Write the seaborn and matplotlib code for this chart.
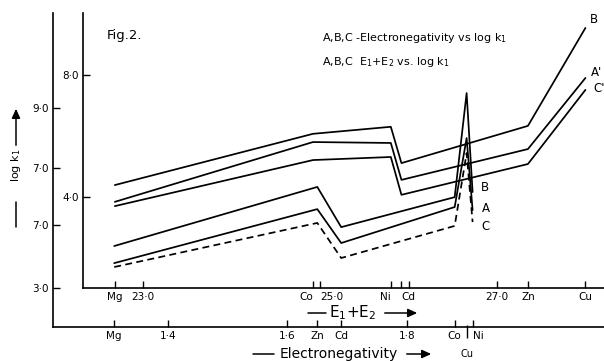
import pandas as pd
import seaborn as sns
import matplotlib.pyplot as plt
import matplotlib.transforms as mtransforms

sns.set_style("ticks")
plt.rcParams["font.family"] = ["DejaVu Sans"]
plt.rcParams["mathtext.fontset"] = "dejavusans"
for key in ("text.color", "axes.labelcolor", "xtick.color", "ytick.color", "axes.edgecolor"):
    plt.rcParams[key] = "black"

# metals in order of electronegativity
metals = ["Mg", "Zn", "Cd", "Co", "Cu", "Ni"]
electroneg = [1.31, 1.65, 1.69, 1.88, 1.90, 1.91]
ion_sum = [22.68, 27.35, 25.92, 24.92, 28.00, 25.80]  # E1+E2 (eV)

# log k1 plotted against electronegativity (outer axes)
en_logk_A = [3.83, 5.63, 4.50, 5.70, 8.00, 5.60]
en_logk_B = [4.40, 6.37, 5.03, 6.03, 9.50, 6.20]
en_logk_C = [3.70, 5.17, 4.00, 5.07, 7.50, 5.20]

# log k1 plotted against E1+E2 (inner axes)
ie_logk_A = [3.84, 5.57, 4.56, 5.80, 7.90, 5.77]
ie_logk_B = [4.39, 6.33, 5.11, 6.07, 9.54, 6.30]
ie_logk_C = [3.70, 5.08, 4.07, 5.21, 7.51, 5.31]

# axis ticks
en_ticks = [1.31, 1.4, 1.6, 1.65, 1.69, 1.8, 1.88, 1.91]
en_ticklabels = ["Mg", "1·4", "1·6", "Zn", "Cd", "1·8", "Co", "Ni"]
ie_ticks = [22.68, 23.0, 24.92, 25.0, 25.80, 25.92, 26.0, 27.0, 27.35, 28.0]
ie_ticklabels = ["Mg", "23·0", "Co", "25·0", "Ni", "Cd", "", "27·0", "Zn", "Cu"]
outer_yticks = [3.0, 5.1, 7.0, 9.0]
outer_yticklabels = ["3·0", "7·0", "7·0", "9·0"]
inner_yticks = [4.0, 8.0]
inner_yticklabels = ["4·0", "8·0"]

rows_en, rows_ie = [], []
for curve, en_vals, ie_vals in [("A", en_logk_A, ie_logk_A),
                                ("B", en_logk_B, ie_logk_B),
                                ("C", en_logk_C, ie_logk_C)]:
    for m, x1, x2, y1, y2 in zip(metals, electroneg, ion_sum, en_vals, ie_vals):
        rows_en.append({"metal": m, "x": x1, "logk": y1, "curve": curve})
        rows_ie.append({"metal": m, "x": x2, "logk": y2, "curve": curve})
df_en = pd.DataFrame(rows_en)
df_ie = pd.DataFrame(rows_ie)

W, H = 604, 361


def px(x, y):
    # pixel position (from top-left) -> figure fraction
    return (x / W, 1 - y / H)


fig = plt.figure(figsize=(W / 100, H / 100), dpi=100)
ax_en = fig.add_axes([53 / W, 1 - 327 / H, (W - 53) / W, (327 - 13) / H])
ax_ie = fig.add_axes([83 / W, 1 - 288 / H, (W - 83) / W, (288 - 13) / H])
ax_ie.patch.set_visible(False)

black = ["black"] * 3
sns.lineplot(data=df_en, x="x", y="logk", hue="curve", style="curve",
             palette=black, dashes={"A": "", "B": "", "C": (4, 2.5)},
             estimator=None, sort=True, legend=False, lw=1.25, ax=ax_en)
sns.lineplot(data=df_ie, x="x", y="logk", hue="curve", style="curve",
             palette=black, dashes={"A": "", "B": "", "C": ""},
             estimator=None, sort=True, legend=False, lw=1.25, ax=ax_ie)

for ax in (ax_en, ax_ie):
    sns.despine(ax=ax)
    for s in ("left", "bottom"):
        ax.spines[s].set_linewidth(1.2)
    ax.tick_params(direction="in", length=5, width=1, labelsize=7.5, pad=3, colors="black")
    ax.set_xlabel("")
    ax.set_ylabel("")

ax_en.set_xlim(1.2075, 2.13)
ax_en.set_ylim(1.7, 12.17)
ax_en.set_xticks(en_ticks)
ax_en.set_xticklabels(en_ticklabels)
ax_en.set_yticks(outer_yticks)
ax_en.set_yticklabels(outer_yticklabels)

ax_ie.set_xlim(22.32, 28.21)
ax_ie.set_ylim(1.016, 10.03)
ax_ie.set_xticks(ie_ticks)
ax_ie.set_xticklabels(ie_ticklabels)
ax_ie.set_yticks(inner_yticks)
ax_ie.set_yticklabels(inner_yticklabels)

# nudge crowded tick labels apart
for lab in ax_ie.get_xticklabels():
    if lab.get_text() in ("Co", "Ni"):
        lab.set_ha("right")
    elif lab.get_text() in ("25·0", "Cd"):
        lab.set_ha("left")
for lab in ax_en.get_xticklabels():
    if lab.get_text() == "Ni":
        lab.set_ha("left")

# Cu marker crossing the electronegativity axis
cu_en = electroneg[metals.index("Cu")]
trans = mtransforms.blended_transform_factory(ax_en.transData, ax_en.transAxes)
ax_en.vlines(cu_en, -0.035, 0.006, color="black", lw=1, transform=trans, clip_on=False)
ax_en.text(cu_en, -0.085, "Cu", transform=trans, ha="center", va="center", fontsize=7)

# curve labels
ni = metals.index("Ni")
cu = metals.index("Cu")
for curve, vals, off in [("B", en_logk_B, (6, 3)), ("A", en_logk_A, (7, 1)), ("C", en_logk_C, (6, -3))]:
    ax_en.annotate(curve, (electroneg[ni], vals[ni]), xytext=off, textcoords="offset points",
                   ha="left", va="center", fontsize=8.5)
for curve, vals, off in [("B", ie_logk_B, (3, 6)), ("A'", ie_logk_A, (4, 4)), ("C'", ie_logk_C, (6, 1))]:
    ax_ie.annotate(curve, (ion_sum[cu], vals[cu]), xytext=off, textcoords="offset points",
                   ha="left", va="center", fontsize=8.5, annotation_clip=False)

# title and key
fig.text(*px(107, 36), "Fig.2.", fontsize=9.5, va="center")
fig.text(*px(322, 38), "A,B,C -Electronegativity vs log k$_1$", fontsize=8, va="center")
fig.text(*px(322, 62), "A,B,C  E$_1$+E$_2$ vs. log k$_1$", fontsize=8, va="center")

# axis titles drawn as dash + text + arrow
arrow_kw = dict(arrowprops=dict(arrowstyle="-|>,head_length=0.55,head_width=0.25",
                                lw=1.1, color="black"))

fig.text(*px(353, 313), "E$_1$+E$_2$", fontsize=11, ha="center", va="center")
fig.add_artist(plt.Line2D([308 / W, 326 / W], [1 - 313 / H, 1 - 313 / H], color="black", lw=1.1))
plt.annotate("", xy=px(420, 313), xytext=px(382, 313), xycoords="figure fraction", **arrow_kw)

fig.text(*px(339, 354), "Electronegativity", fontsize=10, ha="center", va="center")
fig.add_artist(plt.Line2D([253 / W, 274 / W], [1 - 354 / H, 1 - 354 / H], color="black", lw=1.1))
plt.annotate("", xy=px(434, 354), xytext=px(404, 354), xycoords="figure fraction", **arrow_kw)

fig.text(*px(16, 165), "log k$_1$", fontsize=8, rotation=90, ha="center", va="center")
fig.add_artist(plt.Line2D([16 / W, 16 / W], [1 - 227 / H, 1 - 202 / H], color="black", lw=1.1))
plt.annotate("", xy=px(16, 106), xytext=px(16, 148), xycoords="figure fraction", **arrow_kw)

fig.savefig("out.png", dpi=100)
